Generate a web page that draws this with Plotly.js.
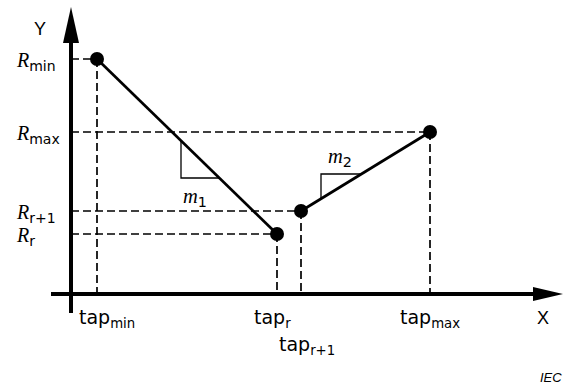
<!DOCTYPE html>
<html>
<head>
<meta charset="utf-8">
<script src="https://cdn.plot.ly/plotly-3.0.1.min.js"></script>
<style>html,body{margin:0;padding:0;background:#fff}</style>
</head>
<body>
<div id="chart" style="width:565px;height:385px"></div>
<script>
// Tap positions along X and resistance levels along Y (drawing units, origin where the axes cross)
const tapLabels = ['tap<sub>min</sub>', 'tap<sub>r</sub>', 'tap<sub>r+1</sub>', 'tap<sub>max</sub>'];
const tapValues = [26, 206, 230, 359];
const resSubscripts = ['min', 'r', 'r+1', 'max'];
const resValues = [235, 60, 83, 162];

// Two linear pieces of the characteristic: tap_min..tap_r and tap_r+1..tap_max
const seg1Taps = [tapValues[0], tapValues[1]];
const seg1Res = [resValues[0], resValues[1]];
const seg2Taps = [tapValues[2], tapValues[3]];
const seg2Res = [resValues[2], resValues[3]];

// Slope indicators: corner of each right-angle triangle and its label
const slopeLabels = ['m', 'm'];
const slopeSubscripts = ['1', '2'];
const slope1Corner = [110, 116];
const slope2Corner = [250, 120];

const SERIF = 'Liberation Serif';
const SANS = 'DejaVu Sans';

function yAt(xs, ys, x) { return ys[0] + (ys[1] - ys[0]) * (x - xs[0]) / (xs[1] - xs[0]); }
function xAt(xs, ys, y) { return xs[0] + (xs[1] - xs[0]) * (y - ys[0]) / (ys[1] - ys[0]); }

function slopeTriangle(xs, ys, corner) {
  return {
    x: [corner[0], corner[0], xAt(xs, ys, corner[1])],
    y: [yAt(xs, ys, corner[0]), corner[1], corner[1]],
    mode: 'lines', line: {color: '#000', width: 1.3}, hoverinfo: 'skip'
  };
}

// dashed projections from every breakpoint onto both axes
const guideX = [], guideY = [];
for (let i = 0; i < tapValues.length; i++) {
  guideX.push(0, tapValues[i], null, tapValues[i], tapValues[i], null);
  guideY.push(resValues[i], resValues[i], null, resValues[i], 0, null);
}

const traces = [
  {x: guideX, y: guideY, mode: 'lines', connectgaps: false,
   line: {color: '#000', width: 1.7, dash: '8px,4px'}, hoverinfo: 'skip'},
  slopeTriangle(seg1Taps, seg1Res, slope1Corner),
  slopeTriangle(seg2Taps, seg2Res, slope2Corner),
  {x: seg1Taps, y: seg1Res, mode: 'lines', line: {color: '#000', width: 2.7}, hoverinfo: 'skip'},
  {x: seg2Taps, y: seg2Res, mode: 'lines', line: {color: '#000', width: 2.7}, hoverinfo: 'skip'},
  {x: tapValues, y: resValues, mode: 'markers', marker: {color: '#000', size: 14}, hoverinfo: 'skip'}
];

const annotations = [];
// resistance labels on the Y side
resSubscripts.forEach((s, i) => {
  annotations.push({
    x: -57, y: resValues[i], xref: 'x', yref: 'y', xanchor: 'left', yanchor: 'middle',
    yshift: -2, showarrow: false,
    text: '<span style="font-family:' + SERIF + ';font-style:italic">R</span><sub>' + s + '</sub>',
    font: {family: SANS, size: 20, color: '#000'}
  });
});
// tap labels under the X axis
const tapShift = [[10, 0], [-5, 0], [6, -27], [0, 0]];
tapLabels.forEach((t, i) => {
  annotations.push({
    x: tapValues[i], y: -24, xref: 'x', yref: 'y', xanchor: 'center', yanchor: 'middle',
    xshift: tapShift[i][0], yshift: tapShift[i][1], showarrow: false,
    text: t, font: {family: SANS, size: 19, color: '#000'}
  });
});
// slope labels
[[124, 97], [269, 137]].forEach((p, i) => {
  annotations.push({
    x: p[0], y: p[1], xref: 'x', yref: 'y', showarrow: false,
    text: '<span style="font-family:' + SERIF + ';font-style:italic">' + slopeLabels[i] + '</span><sub>' + slopeSubscripts[i] + '</sub>',
    font: {family: SANS, size: 20.5, color: '#000'}
  });
});
// axis names and source mark
annotations.push(
  {x: -31, y: 265, xref: 'x', yref: 'y', showarrow: false, text: 'Y',
   font: {family: 'Liberation Sans', size: 18, color: '#000'}},
  {x: 472, y: -24, xref: 'x', yref: 'y', showarrow: false, text: 'X',
   font: {family: 'Liberation Sans', size: 18, color: '#000'}},
  {x: 480, y: -83, xref: 'x', yref: 'y', showarrow: false,
   text: '<i>IEC</i>', font: {family: 'Liberation Sans', size: 13, color: '#000'}}
);

// axes drawn as thick arrows
const shapes = [
  {type: 'line', xref: 'x', yref: 'y', x0: 0, x1: 0, y0: -19, y1: 252, line: {color: '#000', width: 4}},
  {type: 'path', xref: 'x', yref: 'y', path: 'M 0 287 L -8 251 L 8 251 Z', fillcolor: '#000', line: {color: '#000', width: 0}},
  {type: 'line', xref: 'x', yref: 'y', x0: -20, x1: 463, y0: 0, y1: 0, line: {color: '#000', width: 4}},
  {type: 'path', xref: 'x', yref: 'y', path: 'M 492 0 L 462 7 L 462 -7 Z', fillcolor: '#000', line: {color: '#000', width: 0}}
];

const layout = {
  width: 565, height: 385,
  margin: {l: 0, r: 0, t: 0, b: 0},
  paper_bgcolor: '#fff', plot_bgcolor: '#fff',
  showlegend: false,
  xaxis: {range: [-71, 494], visible: false, fixedrange: true},
  yaxis: {range: [-91, 294], visible: false, fixedrange: true},
  shapes: shapes,
  annotations: annotations
};

Plotly.newPlot('chart', traces, layout, {staticPlot: true, displayModeBar: false});
</script>
</body>
</html>
